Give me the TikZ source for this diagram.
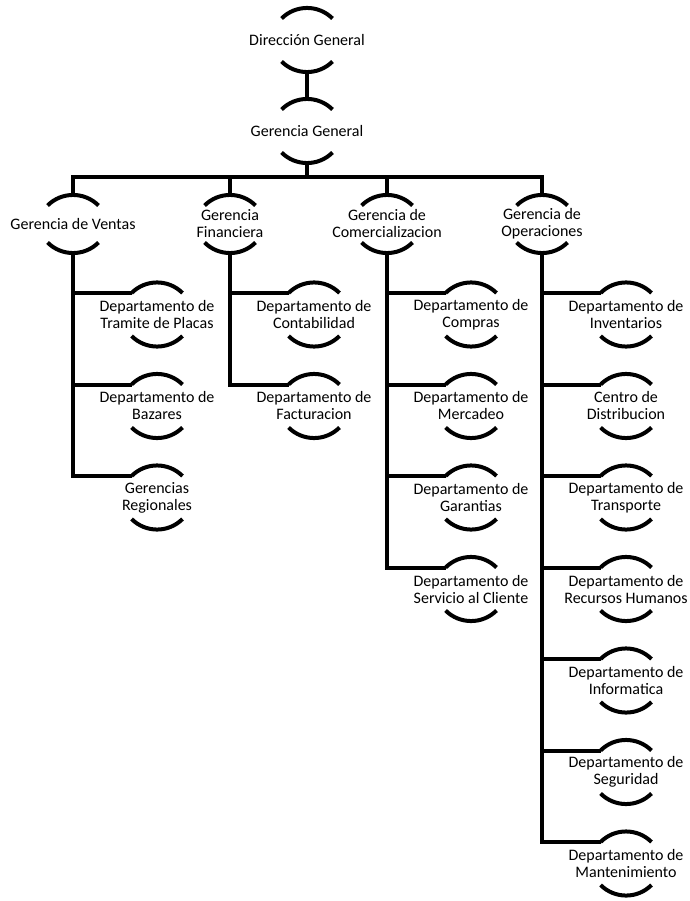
\documentclass[tikz,border=0pt]{standalone}
\usepackage{fontspec}
\setmainfont{Carlito}
\usetikzlibrary{calc}
\tikzset{
  lbl/.style={inner sep=0pt, align=center, font=\fontsize{16}{17}\selectfont},
  ln/.style={line width=4pt, black},
}
% node with a shallow top arc and bottom arc; #5 = distance from centre to arc crown
\newcommand\arcnode[5]{%
  \node[lbl] (#1) at (#2,#3) {#4};
  \draw[ln] ([shift={(25.5pt,#5pt-10.5pt)}]#1.center) arc[start angle=45,end angle=135,radius=36pt];
  \draw[ln] ([shift={(25.5pt,-#5pt+10.5pt)}]#1.center) arc[start angle=-45,end angle=-135,radius=36pt];
  \coordinate (#1-t) at ([yshift=#5pt]#1.center);
  \coordinate (#1-b) at ([yshift=-#5pt]#1.center);
  \coordinate (#1-l) at ([shift={(-25.5pt,#5pt-10.5pt)}]#1.center);
}
\begin{document}
\begin{tikzpicture}[x=1pt,y=-1pt]
\useasboundingbox (0,0) rectangle (689,901);

% top of the chart
\arcnode{dg}{307}{40}{Dirección General}{32}
\arcnode{gg}{307}{131}{Gerencia General}{32}
\draw[ln] (dg-b) -- (gg-t);

% second level
\arcnode{ven}{73}{224}{Gerencia de Ventas}{29}
\arcnode{fin}{230}{224}{Gerencia\\Financiera}{29}
\arcnode{com}{387}{224}{Gerencia de\\Comercializacion}{29}
\arcnode{ope}{542}{224}{Gerencia de\\Operaciones}{29}

\coordinate (bar) at (307,177);
\draw[ln] (gg-b) -- (bar);
\draw[ln] (ven-t) -- (ven-t |- bar) -- (ope-t |- bar) -- (ope-t);
\draw[ln] (fin-t) -- (fin-t |- bar);
\draw[ln] (com-t) -- (com-t |- bar);

% Ventas
\arcnode{v1}{157}{314.5}{Departamento de\\Tramite de Placas}{32}
\arcnode{v2}{157}{406}{Departamento de\\Bazares}{32}
\arcnode{v3}{157}{497.5}{Gerencias\\Regionales}{32}
\draw[ln] (ven-b) |- (v3-l);
\draw[ln] (ven-b |- v1-l) -- (v1-l);
\draw[ln] (ven-b |- v2-l) -- (v2-l);

% Financiera
\arcnode{f1}{314}{314.5}{Departamento de\\Contabilidad}{32}
\arcnode{f2}{314}{406}{Departamento de\\Facturacion}{32}
\draw[ln] (fin-b) |- (f2-l);
\draw[ln] (fin-b |- f1-l) -- (f1-l);

% Comercializacion
\arcnode{c1}{471}{314.5}{Departamento de\\Compras}{32}
\arcnode{c2}{471}{406}{Departamento de\\Mercadeo}{32}
\arcnode{c3}{471}{497.5}{Departamento de\\Garantias}{32}
\arcnode{c4}{471}{589}{Departamento de\\Servicio al Cliente}{32}
\draw[ln] (com-b) |- (c4-l);
\draw[ln] (com-b |- c1-l) -- (c1-l);
\draw[ln] (com-b |- c2-l) -- (c2-l);
\draw[ln] (com-b |- c3-l) -- (c3-l);

% Operaciones
\arcnode{o1}{626}{314.5}{Departamento de\\Inventarios}{32}
\arcnode{o2}{626}{406}{Centro de\\Distribucion}{32}
\arcnode{o3}{626}{497.5}{Departamento de\\Transporte}{32}
\arcnode{o4}{626}{589}{Departamento de\\Recursos Humanos}{32}
\arcnode{o5}{626}{680.5}{Departamento de\\Informatica}{32}
\arcnode{o6}{626}{772}{Departamento de\\Seguridad}{32}
\arcnode{o7}{626}{863.5}{Departamento de\\Mantenimiento}{32}
\draw[ln] (ope-b) |- (o7-l);
\foreach \k in {1,...,6}{
  \draw[ln] (ope-b |- o\k-l) -- (o\k-l);
}
\end{tikzpicture}
\end{document}
